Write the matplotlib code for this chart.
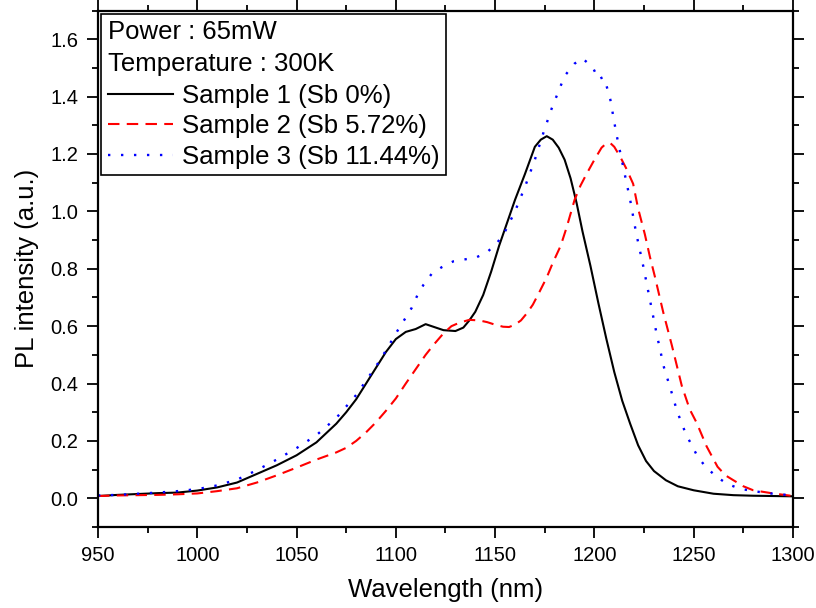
import matplotlib
matplotlib.use('Agg')
import matplotlib.pyplot as plt
from matplotlib.ticker import MultipleLocator

plt.rcParams['font.family'] = ['Liberation Sans', 'DejaVu Sans']

# Sample 1 (Sb 0%)
wl1 = [950, 960, 970, 980, 990, 1000, 1010, 1020, 1030, 1040, 1050, 1060, 1070, 1075,
       1080, 1090, 1095, 1100, 1105, 1110, 1115, 1118, 1124, 1130, 1134, 1137, 1140,
       1144, 1148, 1152, 1156, 1160, 1165, 1170, 1173, 1176, 1179, 1182, 1185, 1188,
       1191, 1194, 1198, 1202, 1206, 1210, 1214, 1218, 1222, 1226, 1230, 1236, 1242,
       1250, 1260, 1270, 1280, 1290, 1300]
pl1 = [0.008, 0.012, 0.015, 0.018, 0.02, 0.027, 0.038, 0.055, 0.085, 0.115, 0.15, 0.195,
       0.26, 0.30, 0.345, 0.455, 0.51, 0.555, 0.58, 0.59, 0.607, 0.60, 0.586, 0.583,
       0.595, 0.62, 0.65, 0.709, 0.79, 0.88, 0.96, 1.04, 1.13, 1.225, 1.25, 1.262,
       1.25, 1.222, 1.18, 1.115, 1.03, 0.93, 0.81, 0.68, 0.556, 0.44, 0.34, 0.26,
       0.185, 0.13, 0.095, 0.063, 0.042, 0.028, 0.016, 0.011, 0.009, 0.008, 0.007]

# Sample 2 (Sb 5.72%)
wl2 = [950, 960, 970, 980, 990, 1000, 1010, 1020, 1030, 1040, 1050, 1060, 1070, 1075,
       1080, 1085, 1090, 1095, 1100, 1105, 1110, 1115, 1119, 1124, 1128, 1132, 1137,
       1142, 1146, 1150, 1154, 1157, 1160, 1163, 1166, 1169, 1172, 1176, 1179, 1183,
       1186, 1190, 1193, 1196, 1200, 1203.6, 1206, 1208, 1210, 1213, 1216, 1219.5,
       1222, 1225.4, 1228, 1230.4, 1234.6, 1239, 1244, 1248, 1251.5, 1256.5, 1262,
       1266, 1270, 1275, 1280, 1290, 1300]
pl2 = [0.008, 0.01, 0.011, 0.012, 0.014, 0.017, 0.025, 0.035, 0.055, 0.08, 0.107, 0.135,
       0.16, 0.176, 0.2, 0.23, 0.265, 0.305, 0.348, 0.40, 0.45, 0.5, 0.535, 0.575, 0.6,
       0.612, 0.622, 0.62, 0.614, 0.605, 0.598, 0.597, 0.605, 0.62, 0.645, 0.675, 0.715,
       0.77, 0.82, 0.88, 0.944, 1.04, 1.09, 1.13, 1.18, 1.222, 1.237, 1.238, 1.225,
       1.19, 1.15, 1.096, 1.01, 0.92, 0.84, 0.774, 0.65, 0.533, 0.392, 0.31, 0.263,
       0.181, 0.11, 0.08, 0.063, 0.042, 0.028, 0.017, 0.008]

# Sample 3 (Sb 11.44%)
wl3 = [950, 960, 970, 980, 990, 1000, 1010, 1020, 1030, 1040, 1050, 1060, 1070, 1075,
       1080, 1085, 1090, 1095, 1101, 1105, 1108, 1111, 1114, 1118, 1123, 1129, 1134,
       1140, 1146, 1151, 1155, 1160, 1165, 1170, 1174.5, 1178.4, 1182, 1185, 1190,
       1194, 1197, 1199.4, 1202, 1204.4, 1206, 1208, 1211, 1214.5, 1218, 1221, 1224.6,
       1228, 1231.3, 1235, 1238.4, 1241.7, 1246, 1252, 1256, 1261.5, 1267, 1273, 1280,
       1290, 1300]
pl3 = [0.01, 0.012, 0.016, 0.02, 0.025, 0.032, 0.045, 0.065, 0.098, 0.135, 0.175, 0.22,
       0.28, 0.32, 0.36, 0.41, 0.46, 0.515, 0.586, 0.63, 0.664, 0.71, 0.745, 0.782,
       0.805, 0.826, 0.832, 0.838, 0.858, 0.89, 0.93, 1.0, 1.085, 1.18, 1.278, 1.357,
       1.42, 1.472, 1.515, 1.533, 1.515, 1.499, 1.46, 1.468, 1.44, 1.39, 1.272, 1.155,
       1.04, 0.925, 0.809, 0.69, 0.574, 0.457, 0.38, 0.302, 0.225, 0.145, 0.11, 0.075,
       0.05, 0.034, 0.025, 0.016, 0.01]

labels = ['Sample 1 (Sb 0%)', 'Sample 2 (Sb 5.72%)', 'Sample 3 (Sb 11.44%)']
header = 'Power : 65mW\nTemperature : 300K'

fig = plt.figure(figsize=(8.16, 6.08), dpi=100)
ax = fig.add_axes([0.1201, 0.1332, 0.8517, 0.8495])

ax.plot(wl1, pl1, color='black', lw=1.5, ls='-', label=labels[0])
ax.plot(wl2, pl2, color='#ff0000', lw=1.5, ls=(0, (5.5, 3.5)), label=labels[1])
ax.plot(wl3, pl3, color='#0000ff', lw=1.7, ls=(0, (1, 4.5)), label=labels[2])

ax.set_xlim(950, 1300)
ax.set_ylim(-0.1, 1.7)
ax.xaxis.set_major_locator(MultipleLocator(50))
ax.xaxis.set_minor_locator(MultipleLocator(25))
ax.yaxis.set_major_locator(MultipleLocator(0.2))
ax.yaxis.set_minor_locator(MultipleLocator(0.1))
ax.yaxis.set_major_formatter(matplotlib.ticker.FormatStrFormatter('%.1f'))

ax.tick_params(which='both', direction='out', top=True, right=True,
               labeltop=False, labelright=False, width=1.3, labelsize=14.5)
ax.tick_params(which='major', length=8, pad=6)
ax.tick_params(which='minor', length=4)
for s in ax.spines.values():
    s.set_linewidth(1.6)

ax.set_xlabel('Wavelength (nm)', fontsize=18.5, labelpad=9)
ax.set_ylabel('PL intensity (a.u.)', fontsize=18.5, labelpad=8)

leg = ax.legend(title=header, alignment='left', loc='upper left', fontsize=18.5,
                title_fontsize=18.5, fancybox=False, edgecolor='black', framealpha=1,
                borderaxespad=0.12, handlelength=2.55, handletextpad=0.36,
                labelspacing=0.25, borderpad=0.25)
leg.get_frame().set_linewidth(1.2)
leg.get_title().set_linespacing(1.4)
leg._legend_box.sep = 6

fig.savefig('out.png', dpi=100)
